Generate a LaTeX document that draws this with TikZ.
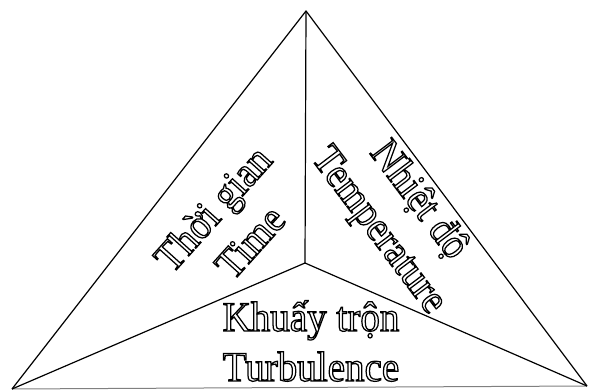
\documentclass[tikz,border=0pt]{standalone}
\usepackage{fontspec}
\setmainfont{Liberation Serif}
\newfontfamily\lblfont[FakeStretch=0.93]{Liberation Serif}
\newcommand{\ol}[1]{{\special{pdf:literal direct 1 Tr 1.25 w}#1\special{pdf:literal direct 0 Tr}}}
\begin{document}
\begin{tikzpicture}[x=1pt,y=-1pt,
  edge/.style={line width=1.2pt,black,line join=round},
  lbl/.style={font=\lblfont\fontsize{42}{50}\selectfont,align=center,inner sep=0pt}]
\useasboundingbox (0,0) rectangle (589,390);
\coordinate (A) at (306,11);
\coordinate (L) at (12,389);
\coordinate (R) at (587,386);
\coordinate (C) at (305,263);
\draw[gray,line width=1pt] (L) -- (R);
\draw[edge] (L) -- (A) -- (R);
\draw[edge] (A) -- (C);
\draw[edge] (L) -- (C) -- (R);
\node[lbl,rotate=48] (time) at (231,225) {\ol{Thời gian}\\\ol{Time}};
\node[lbl,rotate=-53] (temp) at (398,216) {\ol{Nhiệt độ}\\\ol{Temperature}};
\node[lbl] (turb) at (311,341) {\ol{Khuấy trộn}\\\ol{Turbulence}};
\end{tikzpicture}
\end{document}
